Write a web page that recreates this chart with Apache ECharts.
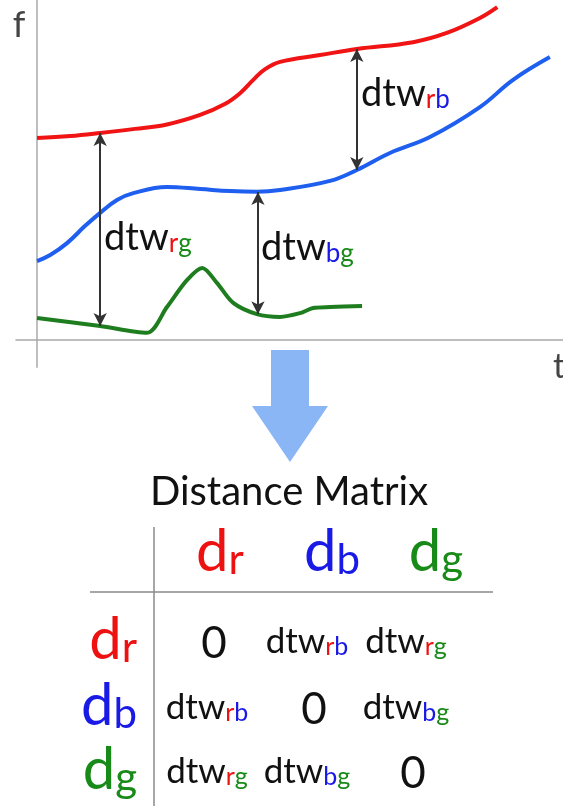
<!DOCTYPE html>
<html>
<head>
<meta charset="utf-8">
<script src="https://cdn.jsdelivr.net/npm/echarts@6/dist/echarts.min.js"></script>
<style>
html,body{margin:0;padding:0;background:#fff;}
#main{width:563px;height:812px;}
</style>
</head>
<body>
<div id="main"></div>
<script>
// curves, [t, f]
const redCurve = [[0,59.4],[6.3,60.0],[12.0,60.9],[18.6,62.1],[24.7,63.4],[31.0,66.2],[35.7,69.4],[38.6,72.6],[41.1,76.5],[43.3,79.6],[46.2,81.8],[53.8,83.8],[60.8,85.6],[71.5,87.6],[77.9,90.3],[84.2,94.7],[87.5,97.9]];
const blueCurve = [[0,23.2],[2.5,25.0],[5.7,28.5],[9.1,33.5],[12.0,37.4],[15.2,41.2],[18.3,43.2],[24.7,45.0],[31.0,44.4],[36.7,43.8],[41.8,43.6],[46.2,44.1],[55.7,46.8],[60.8,50.0],[67.1,55.0],[74.7,59.7],[84.2,68.5],[90.5,76.5],[97.5,83.2]];
const greenCurve = [[0,6.5],[12.0,4.1],[20.9,2.1],[24.7,9.7],[28.5,17.6],[31.4,21.2],[34.2,16.8],[37.3,10.9],[41.8,7.6],[46.2,6.8],[50.0,7.9],[52.5,9.4],[55.7,9.7],[61.8,10.0]];

// double arrows: [t, fromF, toF, pair]
const arrows = [[12.0, 60.9, 4.1, 'rg'], [42.0, 43.5, 7.6, 'bg'], [60.8, 85.6, 50.0, 'rb']];

// distance matrix
const keys = ['r', 'b', 'g'];
const cells = [['0', 'rb', 'rg'], ['rb', '0', 'bg'], ['rg', 'bg', '0']];

const FONT = 'Lato, "Open Sans", sans-serif';
const C = { r: '#ee1111', b: '#1a1ae6', g: '#178a17' };

const chart = echarts.init(document.getElementById('main'));

function subRich(size, subRatio, drop, zeroSize) {
  const st = {
    d: { fontSize: size, lineHeight: size, fill: '#111', fontFamily: FONT },
    z: { fontSize: zeroSize || size, lineHeight: size, fill: '#111', fontFamily: FONT },
  };
  keys.forEach(k => {
    st['h' + k] = { fontSize: size, lineHeight: size, fill: C[k], fontFamily: FONT };
    st[k] = { fontSize: Math.round(size * subRatio), lineHeight: Math.round(size * drop), verticalAlign: 'bottom', fill: C[k], fontFamily: FONT };
  });
  return st;
}

function dtwText(pair) {
  return '{d|dtw}' + pair.split('').map(k => '{' + k + '|' + k + '}').join('');
}

function txt(x, y, text, rich, align) {
  return { type: 'text', x: x, y: y, silent: true,
    style: { text: text, rich: rich, align: align || 'center', verticalAlign: 'middle' } };
}

const graphics = [];
// axis letters
graphics.push({ type: 'text', x: 19, y: 25, style: { text: 'f', font: '36px ' + FONT, fill: '#444', align: 'center', verticalAlign: 'middle' } });
graphics.push({ type: 'text', x: 559, y: 367, style: { text: 't', font: '34px ' + FONT, fill: '#444', align: 'center', verticalAlign: 'middle' } });

// arrow labels
const labelRich = subRich(38, 0.68, 0.2);
const labelPos = { rg: [104, 238], bg: [261, 248], rb: [361, 94] };
arrows.forEach(a => {
  graphics.push(txt(labelPos[a[3]][0], labelPos[a[3]][1], dtwText(a[3]), labelRich, 'left'));
});

// big blue arrow
graphics.push({ type: 'polygon', silent: true,
  shape: { points: [[271, 350], [309, 350], [309, 406], [328, 406], [290, 462], [252, 406], [271, 406]] },
  style: { fill: '#8ab6f5' } });

// title
graphics.push({ type: 'text', x: 289, y: 492, style: { text: 'Distance Matrix', font: '40px ' + FONT, fill: '#111', align: 'center', verticalAlign: 'middle' } });

// table lines
graphics.push({ type: 'line', shape: { x1: 154, y1: 527, x2: 154, y2: 806 }, style: { stroke: '#8a8a8a', lineWidth: 1.5 } });
graphics.push({ type: 'line', shape: { x1: 90, y1: 592, x2: 493, y2: 592 }, style: { stroke: '#8a8a8a', lineWidth: 1.5 } });

const headRich = subRich(58, 0.72, 0.2);
const headX = [220, 332, 436];
const colX = [207, 307, 406];
const rowY = [642, 708, 772];
keys.forEach((k, i) => {
  graphics.push(txt(headX[i], 552, '{h' + k + '|d}{' + k + '|' + k + '}', headRich));
  graphics.push(txt(137, rowY[i] - 2, '{h' + k + '|d}{' + k + '|' + k + '}', headRich, 'right'));
});
const cellRich = subRich(35, 0.7, 0.2, 44);
cells.forEach((row, i) => {
  row.forEach((v, j) => {
    if (v === '0') graphics.push(txt(colX[j] + 7, rowY[i] + 2, '{z|0}', cellRich));
    else graphics.push(txt(colX[j], rowY[i], dtwText(v), cellRich));
  });
});

const option = {
  animation: false,
  backgroundColor: '#fff',
  grid: { left: 16, right: 0, top: 0, height: 367.2 },
  xAxis: {
    type: 'value', min: -4, max: 100,
    axisLine: { onZero: true, lineStyle: { color: '#a8a8a8', width: 1.5 } },
    axisTick: { show: false }, axisLabel: { show: false }, splitLine: { show: false }
  },
  yAxis: {
    type: 'value', min: -8, max: 100,
    axisLine: { show: true, onZero: true, lineStyle: { color: '#a8a8a8', width: 1.5 } },
    axisTick: { show: false }, axisLabel: { show: false }, splitLine: { show: false }
  },
  series: [
    { type: 'line', data: redCurve, smooth: 0.4, showSymbol: false, lineStyle: { color: '#f01414', width: 4 } },
    { type: 'line', data: blueCurve, smooth: 0.4, showSymbol: false, lineStyle: { color: '#1f5ff0', width: 4 } },
    { type: 'line', data: greenCurve, smooth: 0.3, showSymbol: false, lineStyle: { color: '#1e7d1e', width: 4 } },
    {
      type: 'line', data: [], silent: true,
      markLine: {
        silent: true, animation: false,
        symbol: ['arrow', 'arrow'], symbolSize: [10, 13],
        label: { show: false },
        lineStyle: { type: 'solid', color: '#333', width: 2 },
        data: arrows.map(a => [{ coord: [a[0], a[1]] }, { coord: [a[0], a[2]] }])
      }
    }
  ],
  graphic: graphics
};
chart.setOption(option);
</script>
</body>
</html>
